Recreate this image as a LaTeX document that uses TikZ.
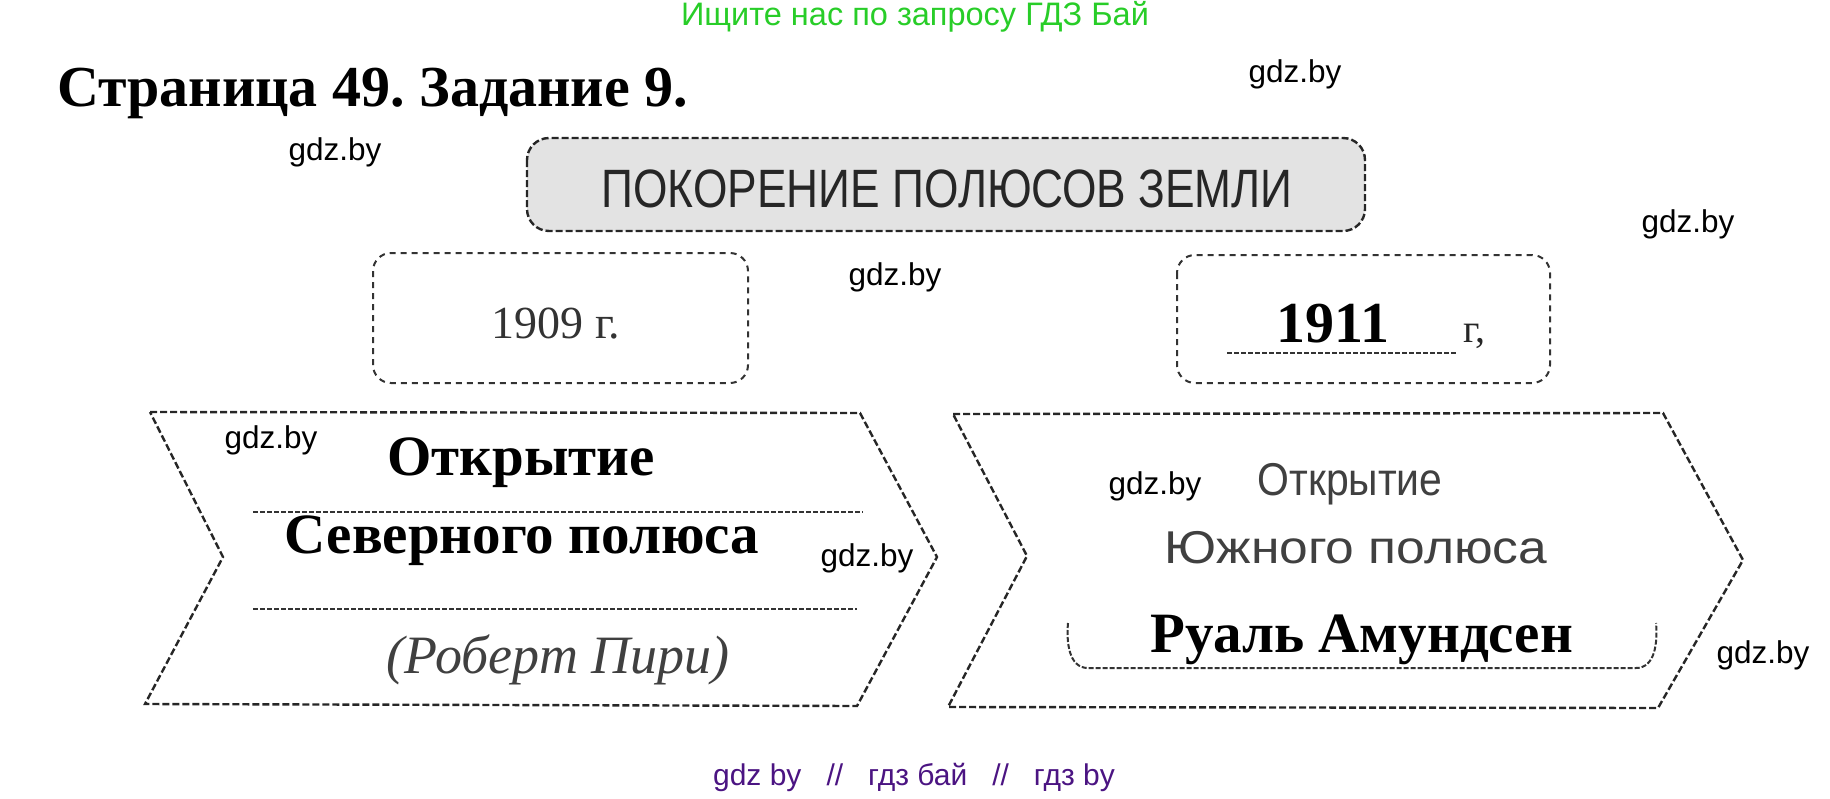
\documentclass[tikz,border=0pt]{standalone}
\usepackage{fontspec}
\setmainfont{Liberation Serif}
\newfontfamily\wmfont{Liberation Sans}
\newcommand\myfs[1]{\fontsize{#1}{#1}\selectfont}
\definecolor{wmgreen}{RGB}{40,205,40}
\definecolor{wmpurple}{RGB}{75,20,130}
\tikzset{
  edgeline/.style={draw=black!85, line width=2.4pt, dash pattern=on 7pt off 3pt},
  yearline/.style={draw=black!80, line width=2pt, dash pattern=on 6pt off 5pt, rounded corners=18pt},
  innerline/.style={draw=black!80, line width=2pt, dash pattern=on 5pt off 2pt},
  wmark/.style={font=\wmfont\myfs{31.5}, text=black, inner sep=0pt},
  bigtext/.style={font=\bfseries\myfs{57}, anchor=base, inner sep=0pt},
  stamptext/.style={font=\wmfont\myfs{46}, text=black!75, anchor=base, inner sep=0pt}
}
\begin{document}
\frenchspacing
\begin{tikzpicture}[x=1pt,y=-1pt]
\useasboundingbox (0,0) rectangle (1830,798);

% top green line and title
\node[font=\wmfont\myfs{32.5}, text=wmgreen, inner sep=0pt] (green) at (915,17) {Ищите нас по запросу ГДЗ Бай};
\node[font=\bfseries\myfs{58}, anchor=base west, inner sep=0pt] (title) at (57,106) {Страница 49. Задание 9.};

% header box
\draw[edgeline, fill=gray!22, rounded corners=22pt] (527,138) rectangle (1365,231);
\node[font=\wmfont\myfs{54}, text=black!85, anchor=base, inner sep=0pt] (head) at (947,207) {\scalebox{0.82}[1]{ПОКОРЕНИЕ ПОЛЮСОВ ЗЕМЛИ}};

% year boxes
\draw[yearline] (373,253) rectangle (748,383);
\node[font=\myfs{46}, text=black!80, anchor=base, inner sep=0pt] (y1909) at (556,338) {1909 г.};
\draw[yearline] (1177,255) rectangle (1550,383);
\node[bigtext, font=\bfseries\myfs{58}] (y1911) at (1333,342) {1911};
\coordinate (ul1) at (1227,353);
\coordinate (ul2) at (1457,353);
\draw[innerline, line width=1.6pt] (ul1) -- (ul2);
\node[font=\myfs{40}, text=black!85, anchor=base west, inner sep=0pt] (gsuf) at (1463,342) {г,};

% left chevron
\draw[edgeline] (150,412) -- (860,413) -- (937,557) -- (857,706) -- (145,704) -- (223,557) -- cycle;
\node[bigtext] (open1) at (521,475) {Открытие};
\node[bigtext] (north) at (522,553) {Северного полюса};
\coordinate (l1a) at (253,512); \coordinate (l1b) at (863,512);
\coordinate (l2a) at (253,609); \coordinate (l2b) at (857,609);
\draw[innerline] (l1a) -- (l1b);
\draw[innerline] (l2a) -- (l2b);
\node[font=\itshape\myfs{54}, text=black!75, anchor=base, inner sep=0pt] (peary) at (558,673) {(Роберт Пири)};

% right chevron
\draw[edgeline] (953,414) -- (1663,413) -- (1743,560) -- (1658,708) -- (948,707) -- (1027,556) -- cycle;
\node[stamptext] (open2) at (1350,495) {\scalebox{0.89}[1]{Открытие}};
\node[stamptext] (south) at (1356,563) {\scalebox{1.12}[1]{Южного полюса}};
\coordinate (b1) at (1068,623);
\coordinate (b2) at (1656,623);
\draw[innerline] (b1) to[out=-95,in=180] (1088,668) -- (1636,668) to[out=0,in=-85] (b2);
\node[bigtext] (amund) at (1362,652) {Руаль Амундсен};

% watermarks
\node[wmark] (w1) at (1295,74) {gdz.by};
\node[wmark] (w2) at (335,152) {gdz.by};
\node[wmark] (w3) at (1688,224) {gdz.by};
\node[wmark] (w4) at (895,277) {gdz.by};
\node[wmark] (w5) at (271,440) {gdz.by};
\node[wmark] (w6) at (867,558) {gdz.by};
\node[wmark] (w7) at (1155,486) {gdz.by};
\node[wmark] (w8) at (1763,655) {gdz.by};

% bottom purple line
\node[font=\wmfont\myfs{30}, text=wmpurple, inner sep=0pt] (bottom) at (914,777) {gdz by\ \ \ //\ \ \ гдз бай\ \ \ //\ \ \ гдз by};
\end{tikzpicture}
\end{document}
